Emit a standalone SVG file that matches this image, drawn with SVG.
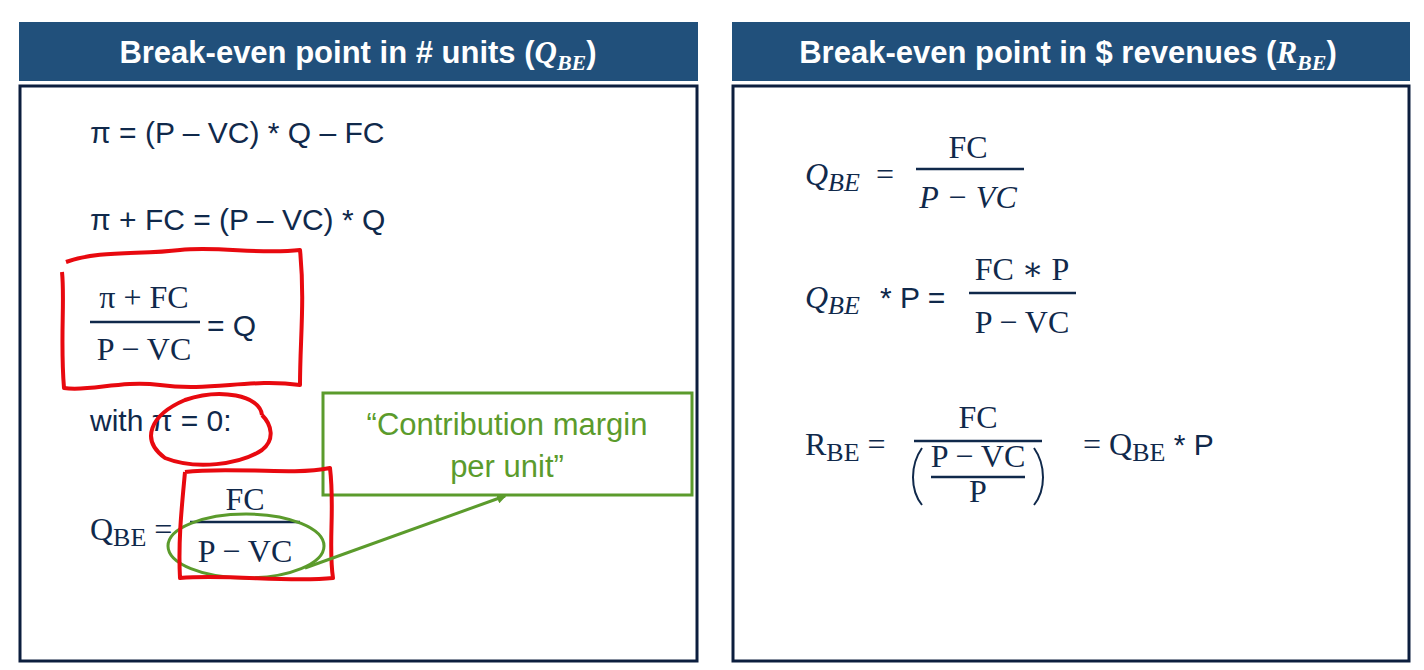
<svg xmlns="http://www.w3.org/2000/svg" width="1424" height="670" viewBox="0 0 1424 670">
<style>
.hdr{fill:#21507b}
.body{fill:#fff;stroke:#0c1e3e;stroke-width:3}
.ht{font-family:"Liberation Sans",Arial,sans-serif;font-weight:bold;font-size:31px;fill:#fff}
.s{font-family:"Liberation Sans",Arial,sans-serif;font-size:30px;fill:#10294b}
.m{font-family:"Liberation Serif","DejaVu Serif",serif;font-size:32px;fill:#10294b}
.i{font-style:italic}
.fl{stroke:#10294b;stroke-width:2.5}
.red{fill:none;stroke:#e8090f;stroke-width:4;stroke-linejoin:round}
.grn{fill:none;stroke:#5b9b2c;stroke-width:3}
.gt{font-family:"Liberation Sans",Arial,sans-serif;font-size:31px;fill:#5b9b2c}
</style>
<defs><marker id="ah" markerWidth="10" markerHeight="10" refX="8" refY="5" orient="auto" markerUnits="userSpaceOnUse"><path d="M0,0 L10,5 L0,10 z" fill="#5b9b2c"/></marker></defs>
<rect width="1424" height="670" fill="#fff"/>
<g id="left-panel">
<rect class="hdr" x="19" y="22" width="679" height="59"/>
<rect class="body" x="20" y="86" width="677" height="575"/>
<text class="ht" x="358" y="63" text-anchor="middle">Break-even point in # units (<tspan font-family="Liberation Serif,serif" font-style="italic">Q<tspan font-size="22" dy="7">BE</tspan></tspan><tspan dy="-7">)</tspan></text>
<text class="s" x="90" y="143">π = (P – VC) * Q – FC</text>
<text class="s" x="90" y="230">π + FC = (P – VC) * Q</text>
<text class="m" x="144" y="308" text-anchor="middle">π + FC</text>
<line class="fl" x1="90" y1="322" x2="200" y2="322"/>
<text class="m" x="144" y="360" text-anchor="middle">P − VC</text>
<text class="s" x="207" y="336">= Q</text>
<text class="s" x="90" y="431">with π = 0:</text>
<text class="m" x="90" y="540">Q<tspan font-size="26" dy="6">BE</tspan><tspan dy="-6"> =</tspan></text>
<text class="m" x="245" y="510" text-anchor="middle">FC</text>
<line class="fl" x1="190" y1="522" x2="300" y2="522"/>
<text class="m" x="245" y="562" text-anchor="middle">P − VC</text>
</g>
<g id="callout">
<rect class="grn" x="323" y="393" width="369" height="102"/>
<text class="gt" x="507" y="435" text-anchor="middle">“Contribution margin</text>
<text class="gt" x="507" y="477" text-anchor="middle">per unit”</text>
</g>
<g id="annotations">
<ellipse class="grn" cx="246" cy="546" rx="78" ry="32"/>
<path class="red" d="M66,262 C100,250 140,255 180,250 C220,246 260,255 300,250 C305,300 300,340 300,385 C250,378 210,392 160,385 C120,380 90,392 64,388 C60,340 65,300 62,272"/>
<path class="red" d="M262,415 C260,395 220,388 185,400 C150,415 140,440 165,458 C195,470 240,465 262,450 C275,440 272,425 262,415"/>
<path class="red" d="M185,472 C230,466 290,476 330,468 C335,510 328,545 333,578 C290,583 230,574 180,578 C178,540 182,505 185,472"/>
</g>
<g id="connectors">
<line x1="305" y1="568" x2="505" y2="496" stroke="#5b9b2c" stroke-width="3" marker-end="url(#ah)"/>
</g>
<g id="right-panel">
<rect class="hdr" x="732" y="22" width="678" height="59"/>
<rect class="body" x="733" y="86" width="676" height="575"/>
<text class="ht" x="1068" y="63" text-anchor="middle">Break-even point in $ revenues (<tspan font-family="Liberation Serif,serif" font-style="italic">R<tspan font-size="22" dy="7">BE</tspan></tspan><tspan dy="-7">)</tspan></text>
<text class="m i" x="805" y="185">Q<tspan font-size="26" dy="6">BE</tspan></text>
<text class="m" x="876" y="185">=</text>
<text class="m" x="968" y="158" text-anchor="middle">FC</text>
<line class="fl" x1="916" y1="169" x2="1024" y2="169"/>
<text class="m i" x="968" y="208" text-anchor="middle">P − VC</text>
<text class="m i" x="805" y="308">Q<tspan font-size="26" dy="6">BE</tspan></text>
<text class="s" x="880" y="308">* P =</text>
<text class="m" x="1022" y="280" text-anchor="middle">FC ∗ P</text>
<line class="fl" x1="969" y1="293" x2="1076" y2="293"/>
<text class="m" x="1022" y="333" text-anchor="middle">P − VC</text>
<text class="m" x="805" y="455">R<tspan font-size="26" dy="6">BE</tspan><tspan dy="-6"> =</tspan></text>
<text class="m" x="978" y="428" text-anchor="middle">FC</text>
<line class="fl" x1="914" y1="441" x2="1042" y2="441"/>
<path d="M922,448 C910,465 910,490 922,505 M1034,448 C1046,465 1046,490 1034,505" fill="none" stroke="#10294b" stroke-width="2"/>
<text class="m" x="978" y="467" text-anchor="middle" font-size="24">P − VC</text>
<line class="fl" x1="931" y1="477" x2="1025" y2="477" stroke-width="1.8"/>
<text class="m" x="978" y="502" text-anchor="middle" font-size="24">P</text>
<text class="m" x="1083" y="455">= Q<tspan font-size="26" dy="6">BE</tspan><tspan dy="-6" font-family="Liberation Sans,sans-serif" font-size="30"> * P</tspan></text>
</g>
</svg>
